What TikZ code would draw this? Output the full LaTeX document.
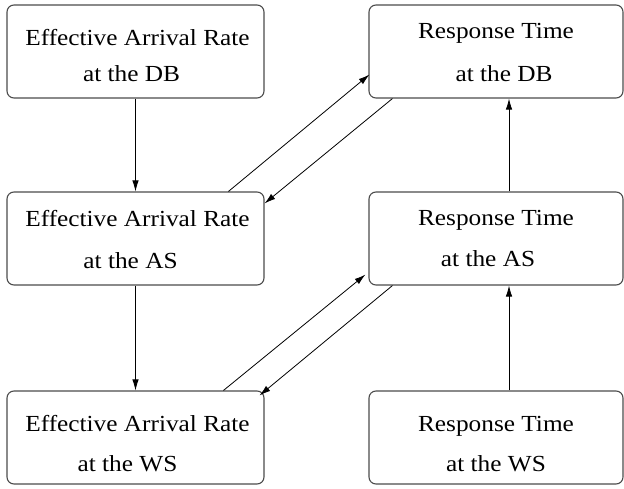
\documentclass[tikz,border=0pt]{standalone}
\usepackage{fontspec}
\setmainfont{Liberation Serif}
\usetikzlibrary{arrows.meta,calc}
\newcommand{\wtxt}[1]{\scalebox{1.1}[1]{#1}}
\begin{document}
\begin{tikzpicture}[x=1bp,y=-1bp,
  box/.style={draw=black!70,line width=1.1bp,rounded corners=7bp,minimum height=93bp,inner sep=0pt},
  lbox/.style={box,minimum width=257bp},
  rbox/.style={box,minimum width=254bp},
  txt/.style={anchor=base,inner sep=0pt,font=\fontsize{23bp}{26bp}\selectfont},
  arr/.style={draw=black,line width=0.8bp,-{Latex[length=11bp,width=6.5bp]}}]
\useasboundingbox (0,0) rectangle (624,489);
% boxes
\node[lbox] (L1) at (135.5,51.5) {};
\node[rbox] (R1) at (496,51.5) {};
\node[lbox] (L2) at (135.5,238.5) {};
\node[rbox] (R2) at (496,238.5) {};
\node[lbox] (L3) at (135.5,437.5) {};
\node[rbox] (R3) at (496,437.5) {};
% texts
\node[txt] (L1a) at ($(L1.north)+(2,41)$) {\wtxt{Effective Arrival Rate}};
\node[txt] (L1b) at ($(L1.north)+(-4,77)$) {\wtxt{at the DB}};
\node[txt] (R1a) at ($(R1.north)+(0,34)$) {\wtxt{Response Time}};
\node[txt] (R1b) at ($(R1.north)+(8,77)$) {\wtxt{at the DB}};
\node[txt] (L2a) at ($(L2.north)+(2,35)$) {\wtxt{Effective Arrival Rate}};
\node[txt] (L2b) at ($(L2.north)+(-5,77)$) {\wtxt{at the AS}};
\node[txt] (R2a) at ($(R2.north)+(0,34)$) {\wtxt{Response Time}};
\node[txt] (R2b) at ($(R2.north)+(-8,75)$) {\wtxt{at the AS}};
\node[txt] (L3a) at ($(L3.north)+(2,41)$) {\wtxt{Effective Arrival Rate}};
\node[txt] (L3b) at ($(L3.north)+(-8,81)$) {\wtxt{at the WS}};
\node[txt] (R3a) at ($(R3.north)+(0,41)$) {\wtxt{Response Time}};
\node[txt] (R3b) at ($(R3.north)+(0,81)$) {\wtxt{at the WS}};
% vertical arrows
\coordinate (vx) at (509,0);
\draw[arr] (L1.south) -- (L2.north);
\draw[arr] (L2.south) -- (L3.north);
\draw[arr] (R3.north -| vx) -- (R2.south -| vx);
\draw[arr] (R2.north -| vx) -- (R1.south -| vx);
% diagonal arrows
\draw[arr] ($(L2.north west)+(222,0)$) -- ($(R1.south west)+(1,-24)$);
\draw[arr] ($(R1.south west)+(24,0)$) -- ($(L2.north east)+(0,12)$);
\draw[arr] ($(L3.north west)+(217,0)$) -- ($(R2.south west)+(-3,-11)$);
\draw[arr] ($(R2.south west)+(24,0)$) -- ($(L3.north east)+(-5,5)$);
\end{tikzpicture}
\end{document}
